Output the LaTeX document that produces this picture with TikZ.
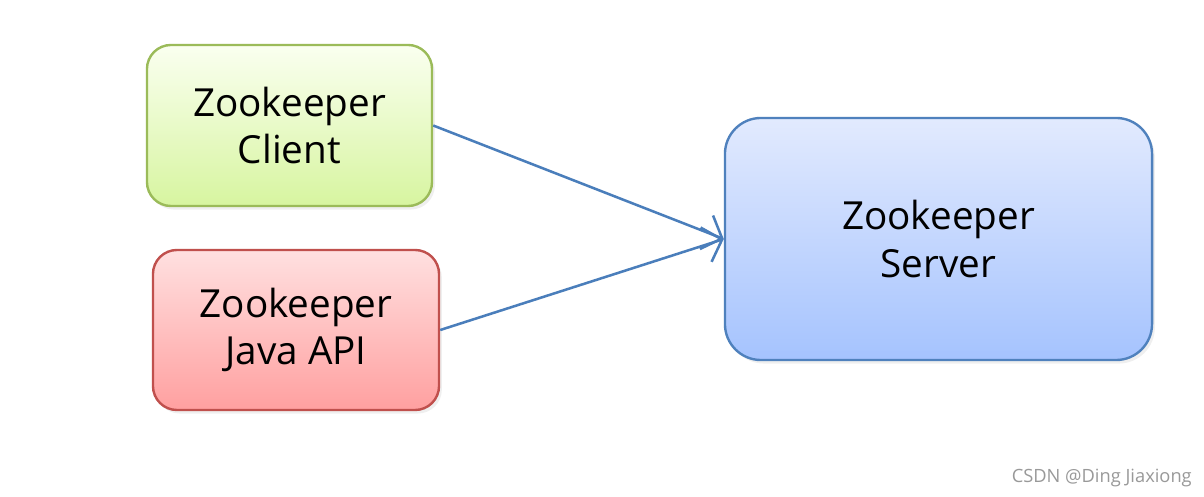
\documentclass[tikz,border=0pt]{standalone}
\usepackage{fontspec}
\setmainfont{Open Sans}
\usetikzlibrary{arrows.meta,positioning,shadows}
\definecolor{greenedge}{HTML}{9BBB59}
\definecolor{rededge}{HTML}{C0504D}
\definecolor{blueedge}{HTML}{4F81BD}
\definecolor{linkblue}{HTML}{4A7EBB}
\tikzset{
  zkbox/.style={draw, line width=1.7pt, align=center, font=\fontsize{27.5}{34}\selectfont,
    drop shadow={opacity=0.12, shadow xshift=2pt, shadow yshift=-2.5pt}},
  client box/.style={zkbox, draw=greenedge, rounded corners=0.6cm, top color=green!2!white!96!yellow,
    bottom color={rgb,255:red,215;green,245;blue,160}, minimum width=7.125cm, minimum height=4.025cm},
  api box/.style={zkbox, draw=rededge, rounded corners=0.6cm, top color={rgb,255:red,255;green,224;blue,224},
    bottom color={rgb,255:red,255;green,160;blue,160}, minimum width=7.15cm, minimum height=4cm},
  server box/.style={zkbox, draw=blueedge, rounded corners=0.9cm, top color={rgb,255:red,226;green,234;blue,254},
    bottom color={rgb,255:red,165;green,195;blue,254}, minimum width=10.675cm, minimum height=6.05cm},
  link/.style={-{Straight Barb[length=0.42cm, width=0.9cm, line width=1.8pt]}, line width=1.8pt, linkblue},
}
\begin{document}
\begin{tikzpicture}[x=0.025cm, y=-0.025cm]
  % canvas
  \useasboundingbox[fill=white] (0,0) rectangle (1204,497);

  % the three parts
  \node[client box] (client) at (289.5,125.5) {Zookeeper\\Client};
  \node[api box] (api) at (296,330) {Zookeeper\\Java API};
  \node[server box] (server) at (938.5,239) {Zookeeper\\Server};

  % connections
  \draw[link] (client.east) -- (server.west);
  \draw[link] (api.east) -- (server.west);

  % watermark
  \node[anchor=east, inner sep=0pt, text=black!40, font=\fontsize{13}{15}\selectfont] (mark) at (1192,478) {CSDN @Ding Jiaxiong};
\end{tikzpicture}
\end{document}
